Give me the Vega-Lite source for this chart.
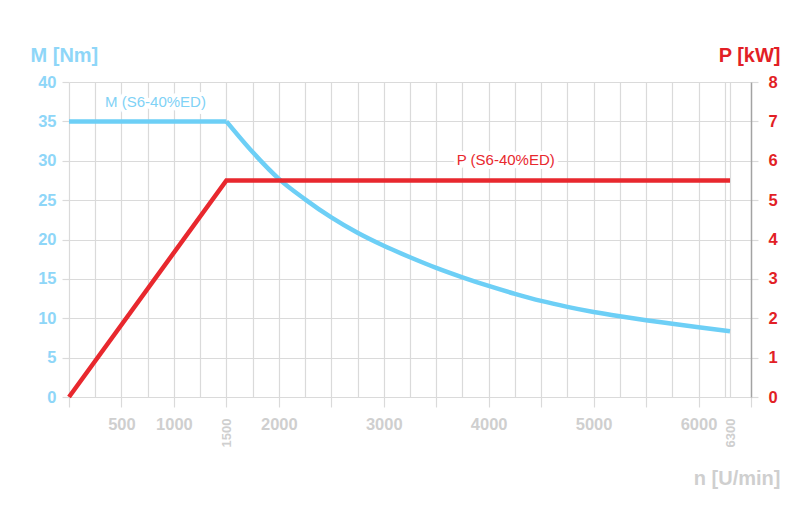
{
  "$schema": "https://vega.github.io/schema/vega-lite/v6.json",
  "width": 682,
  "height": 315,
  "autosize": {"type": "none"},
  "padding": {"left": 69, "top": 82, "right": 46, "bottom": 116},
  "background": "white",
  "config": {
    "view": {"stroke": null},
    "font": "Liberation Sans",
    "axis": {"labelFont": "Liberation Sans", "titleFont": "Liberation Sans"},
    "text": {"font": "Liberation Sans"}
  },
  "datasets": {
    "torque": [
      {"n": 0, "M": 35},
      {"n": 1500, "M": 35},
      {"n": 1750, "M": 31.1},
      {"n": 2000, "M": 27.7},
      {"n": 2250, "M": 25.1},
      {"n": 2500, "M": 22.8},
      {"n": 2750, "M": 20.85},
      {"n": 3000, "M": 19.2},
      {"n": 3250, "M": 17.75},
      {"n": 3500, "M": 16.4},
      {"n": 3750, "M": 15.2},
      {"n": 4000, "M": 14.1},
      {"n": 4250, "M": 13.1},
      {"n": 4500, "M": 12.2},
      {"n": 4750, "M": 11.45},
      {"n": 5000, "M": 10.8},
      {"n": 5250, "M": 10.25},
      {"n": 5500, "M": 9.75},
      {"n": 5750, "M": 9.3},
      {"n": 6000, "M": 8.86},
      {"n": 6300, "M": 8.35}
    ],
    "power": [
      {"n": 0, "P": 0},
      {"n": 1500, "P": 5.5},
      {"n": 6300, "P": 5.5}
    ],
    "labels": [
      {"n": 824, "value": 37.4, "series": "M", "label": "M (S6-40%ED)"},
      {"n": 4162, "value": 6.03, "series": "P", "label": "P (S6-40%ED)"}
    ]
  },
  "layer": [
    {
      "layer": [
        {
          "data": {"name": "torque"},
          "transform": [{"filter": "datum.n <= 1500"}],
          "mark": {"type": "line", "color": "#6dcff6", "strokeWidth": 4.5},
          "encoding": {
            "x": {
              "field": "n", "type": "quantitative",
              "scale": {"domain": [0, 6500], "nice": false, "zero": false},
              "axis": {
                "orient": "bottom",
                "values": [0, 250, 500, 750, 1000, 1250, 1500, 1750, 2000, 2250, 2500, 2750, 3000, 3250, 3500, 3750, 4000, 4250, 4500, 4750, 5000, 5250, 5500, 5750, 6000, 6250, 6300],
                "grid": true, "gridColor": "#dadada", "gridWidth": 1.2,
                "ticks": false, "labels": false, "domain": false, "title": null
              }
            },
            "y": {
              "field": "M", "type": "quantitative",
              "scale": {"domain": [0, 40], "nice": false},
              "axis": {
                "orient": "left",
                "values": [0, 5, 10, 15, 20, 25, 30, 35, 40],
                "grid": true, "gridColor": "#dadada", "gridWidth": 1.2,
                "domain": false,
                "ticks": true, "tickSize": 7, "tickColor": "#dadada", "tickWidth": 1.2,
                "labelColor": "#8ed6f8", "labelFontSize": 16.5, "labelFontWeight": "bold",
                "labelPadding": 6, "labelFlush": false, "labelOverlap": false,
                "title": "M [Nm]", "titleColor": "#8ed6f8", "titleFontSize": 20, "titleFontWeight": "bold",
                "titleAngle": 0, "titleAlign": "left", "titleBaseline": "alphabetic",
                "titleX": -39, "titleY": -20.6
              }
            }
          }
        },
        {
          "data": {"name": "torque"},
          "transform": [{"filter": "datum.n >= 1500"}],
          "mark": {"type": "line", "color": "#6dcff6", "strokeWidth": 4.5, "interpolate": "monotone"},
          "encoding": {
            "x": {
              "field": "n", "type": "quantitative",
              "scale": {"domain": [0, 6500], "nice": false, "zero": false},
              "axis": {
                "orient": "bottom",
                "values": [0, 500, 1000, 1500, 2000, 2500, 3000, 3500, 4000, 4500, 5000, 5500, 6000, 6500],
                "format": "d",
                "labelExpr": "datum.value == 500 || (datum.value % 1000 == 0 && datum.value > 0 && datum.value < 6500) ? datum.label : ''",
                "grid": false, "domain": false,
                "ticks": true, "tickSize": 10, "tickColor": "#dadada", "tickWidth": 1.2,
                "labelColor": "#cfcfcf", "labelFontSize": 16.5, "labelFontWeight": "bold",
                "labelPadding": 9, "labelFlush": false, "labelOverlap": false,
                "title": "n [U/min]", "titleColor": "#cfcfcf", "titleFontSize": 20, "titleFontWeight": "bold",
                "titleAlign": "right", "titleBaseline": "alphabetic", "titleX": 711, "titleY": 87
              }
            },
            "y": {
              "field": "M", "type": "quantitative",
              "scale": {"domain": [0, 40], "nice": false},
              "axis": null
            }
          }
        },
        {
          "data": {"name": "labels"},
          "transform": [{"filter": "datum.series == 'M'"}],
          "mark": {"type": "text", "fontSize": 15, "fill": "white", "stroke": "white", "strokeWidth": 8, "strokeJoin": "round"},
          "encoding": {
            "x": {"field": "n", "type": "quantitative", "scale": {"domain": [0, 6500], "nice": false, "zero": false}, "axis": null},
            "y": {"field": "value", "type": "quantitative", "scale": {"domain": [0, 40], "nice": false}, "axis": null},
            "text": {"field": "label"}
          }
        },
        {
          "data": {"name": "labels"},
          "transform": [{"filter": "datum.series == 'M'"}],
          "mark": {"type": "text", "fontSize": 15, "color": "#7fd2f6"},
          "encoding": {
            "x": {"field": "n", "type": "quantitative", "scale": {"domain": [0, 6500], "nice": false, "zero": false}, "axis": null},
            "y": {"field": "value", "type": "quantitative", "scale": {"domain": [0, 40], "nice": false}, "axis": null},
            "text": {"field": "label"}
          }
        }
      ],
      "resolve": {"axis": {"x": "independent", "y": "independent"}}
    },
    {
      "layer": [
        {
          "data": {"name": "power"},
          "mark": {"type": "line", "color": "#e8282e", "strokeWidth": 4.5},
          "encoding": {
            "x": {
              "field": "n", "type": "quantitative",
              "scale": {"domain": [0, 6500], "nice": false, "zero": false},
              "axis": {
                "orient": "bottom",
                "values": [1500, 6300],
                "format": "d",
                "grid": false, "domain": false, "ticks": false,
                "labelAngle": -90,
                "labelColor": "#cfcfcf", "labelFontSize": 13, "labelFontWeight": "bold",
                "labelPadding": 21, "labelFlush": false, "labelOverlap": false,
                "title": null
              }
            },
            "y": {
              "field": "P", "type": "quantitative",
              "scale": {"domain": [0, 8], "nice": false},
              "axis": {
                "orient": "right",
                "values": [0, 1, 2, 3, 4, 5, 6, 7, 8],
                "grid": false,
                "domain": true, "domainColor": "#a3a3a3", "domainWidth": 1.5,
                "ticks": true, "tickSize": 7, "tickColor": "#dadada", "tickWidth": 1.2,
                "labelColor": "#e21f26", "labelFontSize": 16.5, "labelFontWeight": "bold",
                "labelPadding": 10, "labelFlush": false, "labelOverlap": false,
                "title": "P [kW]", "titleColor": "#e21f26", "titleFontSize": 20, "titleFontWeight": "bold",
                "titleAngle": 0, "titleAlign": "right", "titleBaseline": "alphabetic",
                "titleX": 29, "titleY": -20.6
              }
            }
          }
        },
        {
          "data": {"name": "labels"},
          "transform": [{"filter": "datum.series == 'P'"}],
          "mark": {"type": "text", "fontSize": 15, "fill": "white", "stroke": "white", "strokeWidth": 8, "strokeJoin": "round"},
          "encoding": {
            "x": {"field": "n", "type": "quantitative", "scale": {"domain": [0, 6500], "nice": false, "zero": false}, "axis": null},
            "y": {"field": "value", "type": "quantitative", "scale": {"domain": [0, 8], "nice": false}, "axis": null},
            "text": {"field": "label"}
          }
        },
        {
          "data": {"name": "labels"},
          "transform": [{"filter": "datum.series == 'P'"}],
          "mark": {"type": "text", "fontSize": 15, "color": "#e8282e"},
          "encoding": {
            "x": {"field": "n", "type": "quantitative", "scale": {"domain": [0, 6500], "nice": false, "zero": false}, "axis": null},
            "y": {"field": "value", "type": "quantitative", "scale": {"domain": [0, 8], "nice": false}, "axis": null},
            "text": {"field": "label"}
          }
        }
      ],
      "resolve": {"axis": {"x": "independent", "y": "independent"}}
    }
  ],
  "resolve": {"scale": {"y": "independent"}, "axis": {"x": "independent", "y": "independent"}}
}
